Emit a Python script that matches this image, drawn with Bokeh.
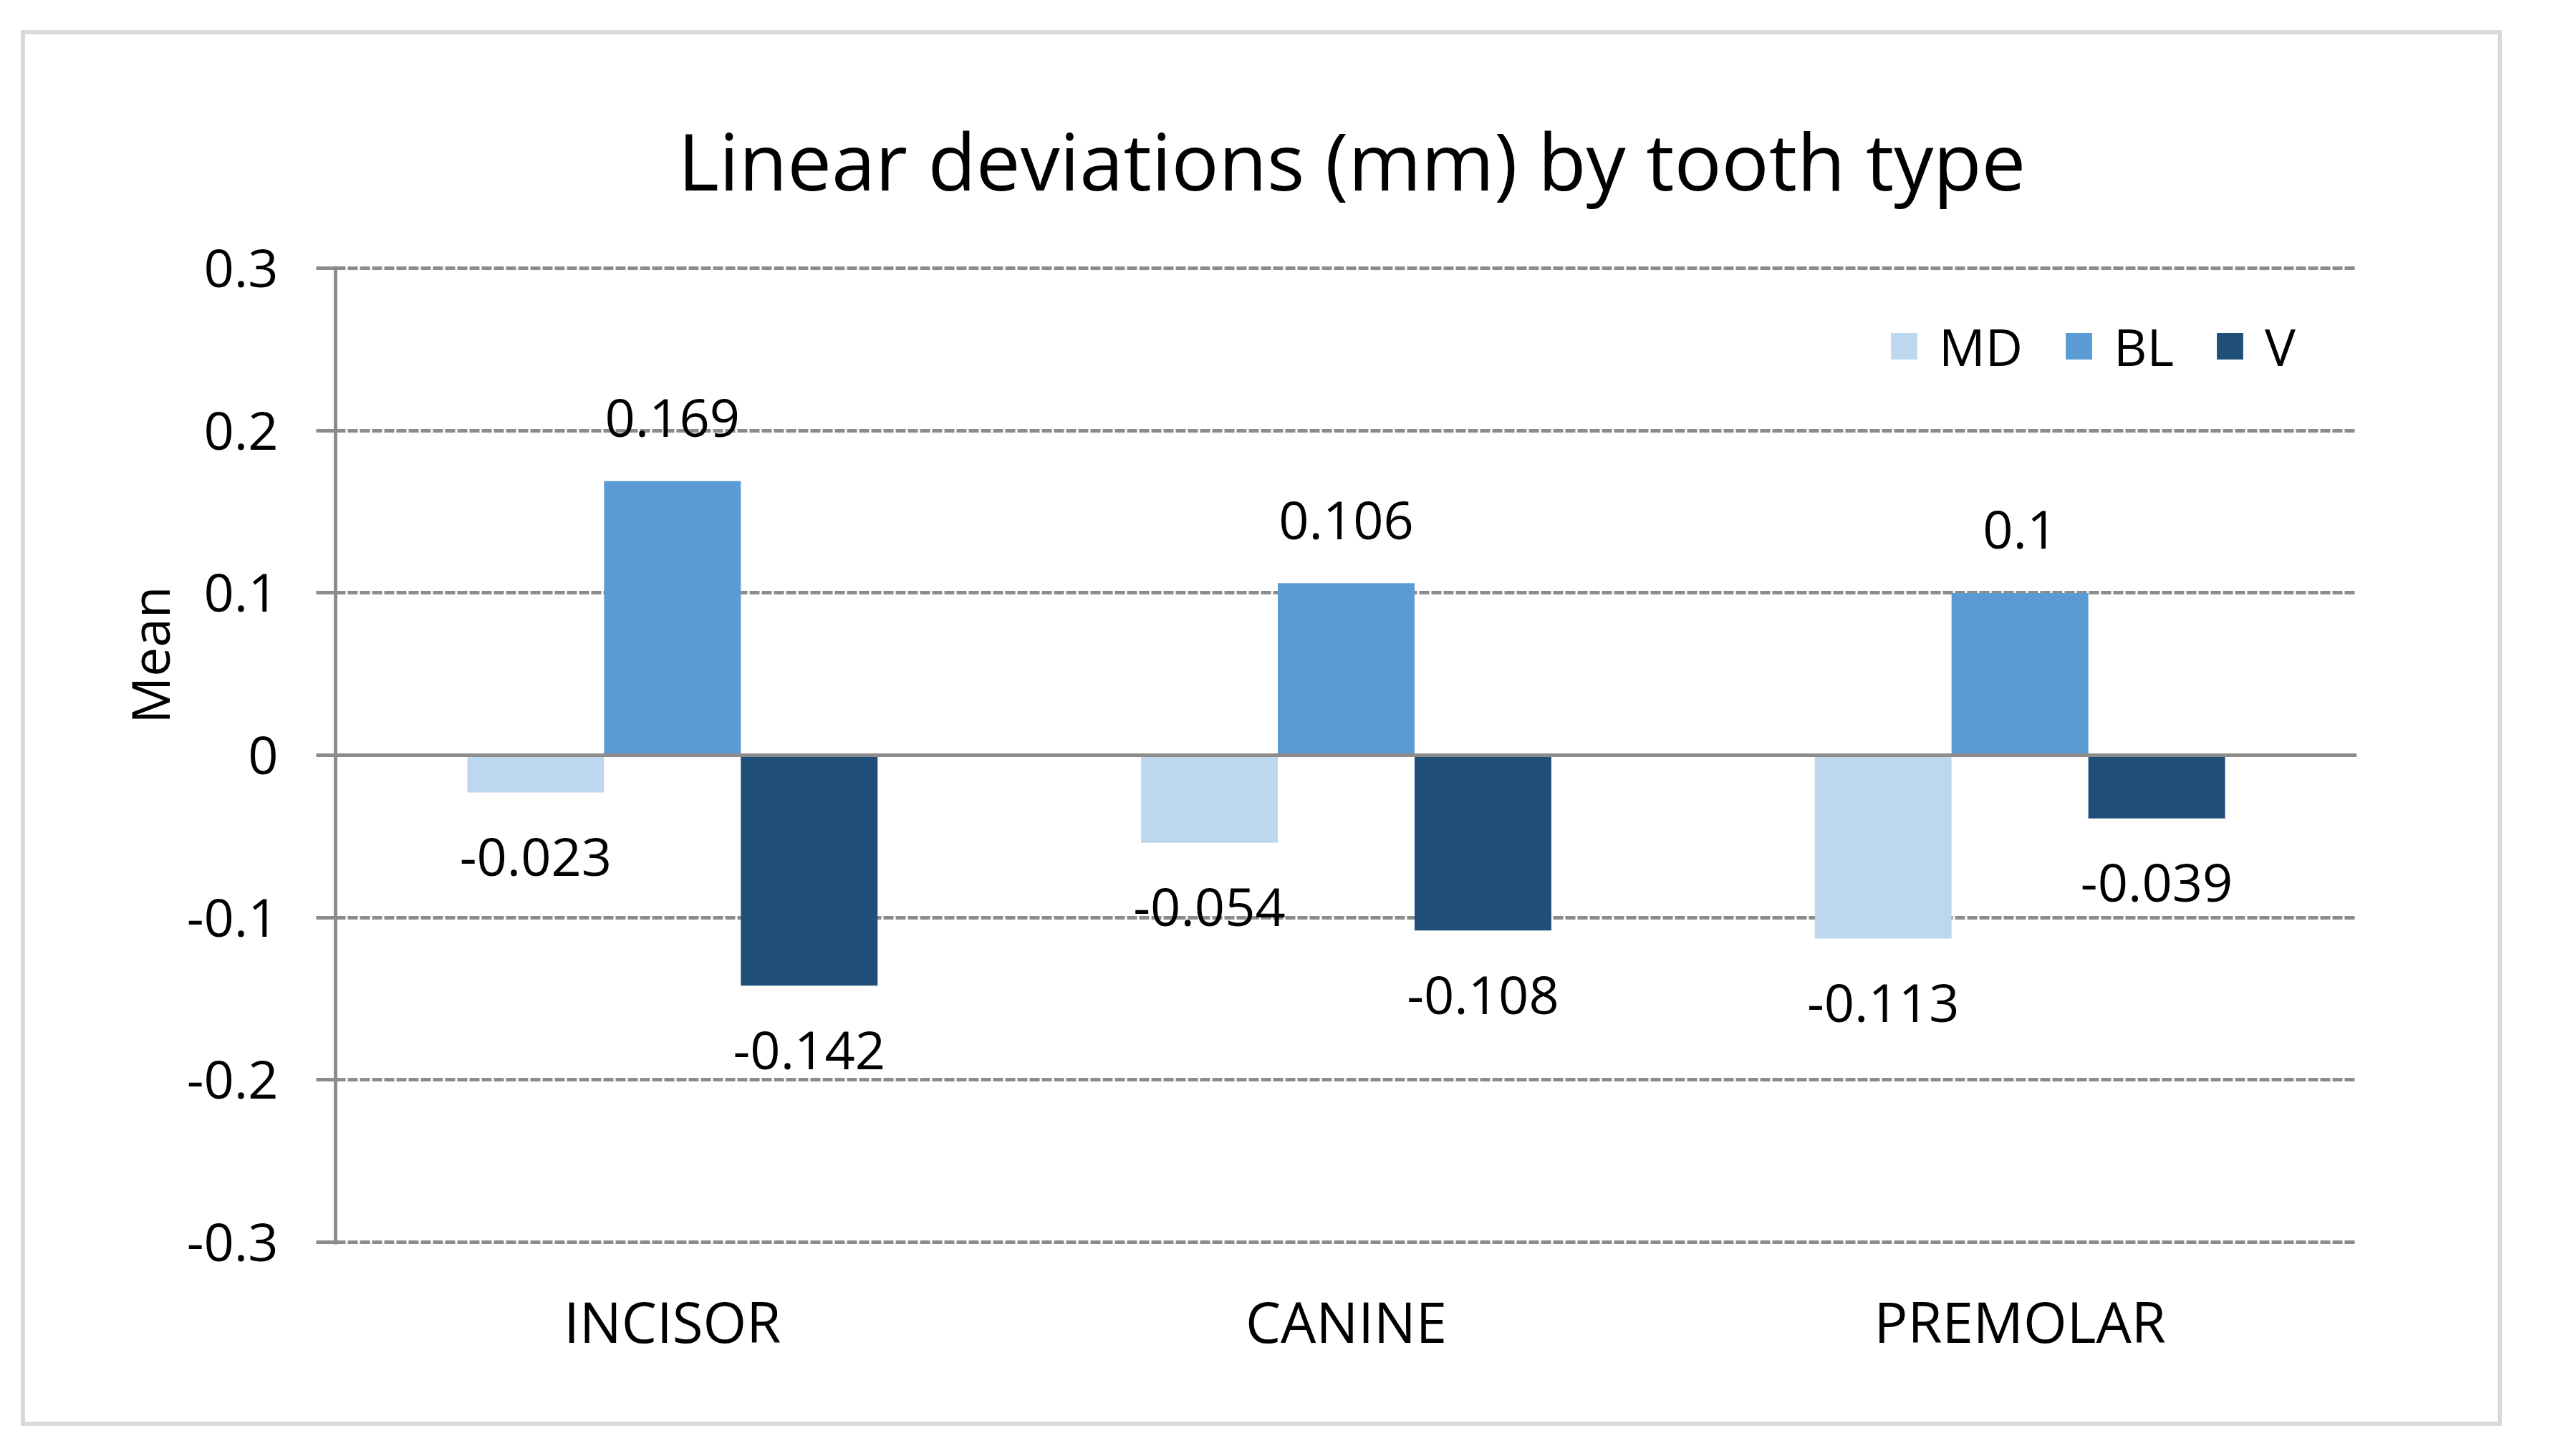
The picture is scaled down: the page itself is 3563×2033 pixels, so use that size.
from bokeh.plotting import figure
from bokeh.models import (ColumnDataSource, FactorRange, Range1d, FixedTicker,
                          Span, Legend, LegendItem, Title)
from bokeh.transform import dodge
from bokeh.embed import file_html
from bokeh.resources import INLINE
from bokeh.core.properties import value

# ---- data ----
categories = ["INCISOR", "CANINE", "PREMOLAR"]
series = ["MD", "BL", "V"]
md = [-0.023, -0.054, -0.113]
bl = [0.169, 0.106, 0.1]
v = [-0.142, -0.108, -0.039]
y_ticks = [-0.3, -0.2, -0.1, 0, 0.1, 0.2, 0.3]
y_tick_labels = ["-0.3", "-0.2", "-0.1", "0", "0.1", "0.2", "0.3"]
title_text = "Linear deviations (mm) by tooth type"
y_label = "Mean"

# ---- style ----
colors = ["#bdd7ee", "#5b9bd5", "#1f4e79"]
FONT = "Open Sans"
GRAY = "#8c8c8c"
BAR_W = 0.203
offsets = [-BAR_W, 0.0, BAR_W]

p = figure(x_range=FactorRange(factors=categories),
           y_range=Range1d(-0.3015, 0.3015),
           width=3464, height=1949, output_backend="svg", toolbar_location=None,
           min_border_left=433, min_border_right=209, min_border_top=323,
           min_border_bottom=260)
p.styles = {"border": "6px solid #d9d9d9", "box-sizing": "border-box"}
p.margin = (42, 0, 0, 29)
p.outline_line_color = None
p.background_fill_color = "white"
p.border_fill_color = "white"

# title
p.title.text = title_text
p.title.align = "left"
p.title.offset = 478
p.title.standoff = 147
p.title.vertical_align = "bottom"
p.title.text_font = FONT
p.title.text_font_size = "110px"
p.title.text_font_style = "normal"
p.title.text_color = "black"

source = ColumnDataSource(dict(cat=categories, MD=md, BL=bl, V=v))
items = []
for name, vals, col, off in zip(series, [md, bl, v], colors, offsets):
    r = p.vbar(x=dodge("cat", off, range=p.x_range), top=name, bottom=0,
               width=BAR_W, source=source, fill_color=col, line_color=None)
    items.append(LegendItem(label=name, renderers=[r]))
    lab_src = ColumnDataSource(dict(
        cat=categories, y=vals, text=[str(x) for x in vals],
        yoff=[-88 if x >= 0 else 90 for x in vals]))
    p.text(x=dodge("cat", off, range=p.x_range), y="y", text="text",
           y_offset="yoff", source=lab_src, text_align="center",
           text_baseline="alphabetic", text_font=value(FONT),
           text_font_size="74px", text_color="black")

# zero line
p.add_layout(Span(location=0, dimension="width", line_color=GRAY, line_width=5))

# y axis
p.yaxis.ticker = FixedTicker(ticks=y_ticks)
p.yaxis.major_label_overrides = dict(zip(y_ticks, y_tick_labels))
p.yaxis.axis_line_color = GRAY
p.yaxis.axis_line_width = 5
p.yaxis.major_tick_line_color = GRAY
p.yaxis.major_tick_line_width = 5
p.yaxis.major_tick_out = 27
p.yaxis.major_tick_in = 0
p.yaxis.minor_tick_line_color = None
p.yaxis.major_label_text_font = FONT
p.yaxis.major_label_text_font_size = "74px"
p.yaxis.major_label_text_color = "black"
p.yaxis.major_label_standoff = 53

p.ygrid.grid_line_color = GRAY
p.ygrid.grid_line_dash = "14 3"
p.ygrid.grid_line_width = 5
p.xgrid.grid_line_color = None

# x axis
p.xaxis.axis_line_color = None
p.xaxis.major_tick_line_color = None
p.xaxis.major_tick_out = 0
p.xaxis.major_tick_in = 0
p.xaxis.major_label_text_font = FONT
p.xaxis.major_label_text_font_size = "78px"
p.xaxis.major_label_text_color = "black"
p.xaxis.major_label_standoff = 54

# y-axis title as a left-side title (placed above centre like the original)
p.add_layout(Title(text=y_label, align="left", offset=727, standoff=0,
                   vertical_align="bottom",
                   text_font=FONT, text_font_size="73px",
                   text_font_style="normal", text_color="black"), "left")

# legend
legend = Legend(items=items, orientation="horizontal", location=(2167, 1205),
                glyph_width=46, glyph_height=46, label_standoff=26, spacing=55,
                padding=0, margin=0, border_line_color=None,
                background_fill_alpha=0, label_text_font=FONT,
                label_text_font_size="72px", label_text_color="black")
p.add_layout(legend)

open("out.html", "w").write(file_html(p, INLINE))
